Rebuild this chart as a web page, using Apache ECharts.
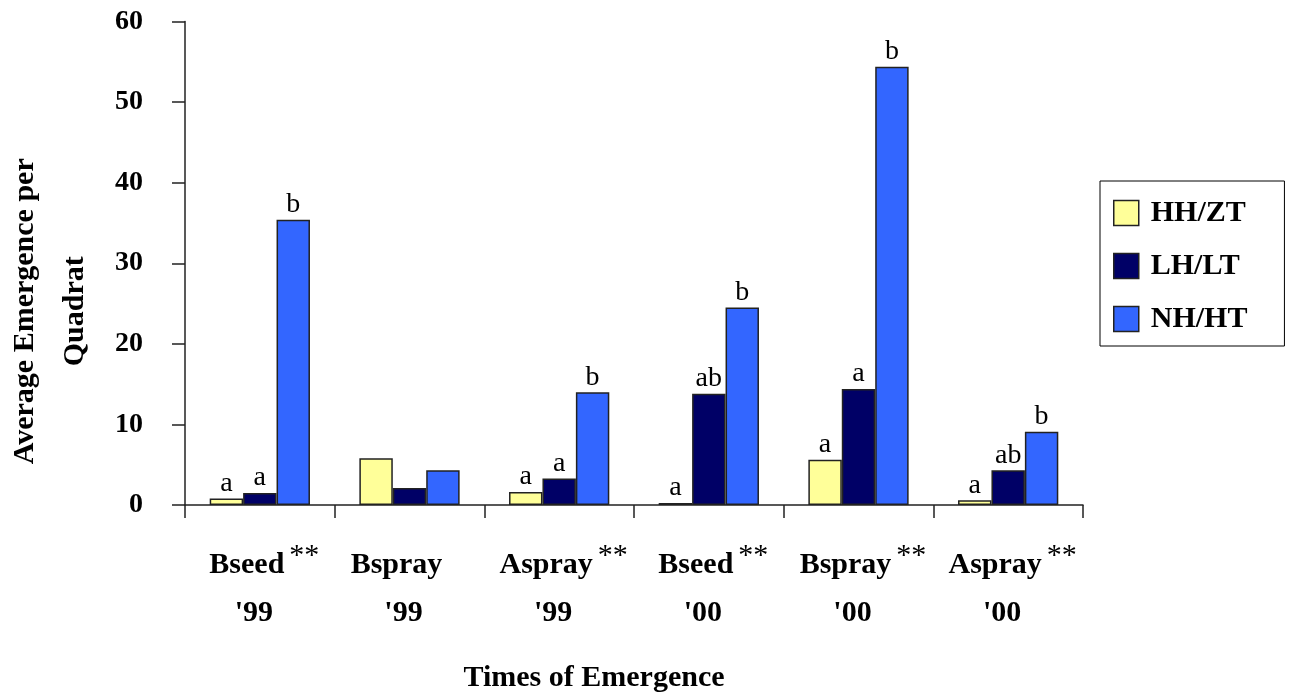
<!DOCTYPE html>
<html>
<head>
<meta charset="utf-8">
<script src="https://cdn.jsdelivr.net/npm/echarts@6/dist/echarts.min.js"></script>
<style>
  html, body { margin: 0; padding: 0; background: #ffffff; }
  #chart { width: 1290px; height: 698px; }
</style>
</head>
<body>
<div id="chart"></div>
<script>
// Emergence timing groups and seasons
const treatments = ['Bseed', 'Bspray', 'Aspray', 'Bseed', 'Bspray', 'Aspray'];
const seasons = ["'99", "'99", "'99", "'00", "'00", "'00"];
const significant = [true, false, true, true, true, true];

// Management systems
const seriesNames = ['HH/ZT', 'LH/LT', 'NH/HT'];
const seriesColors = ['#FFFF99', '#000066', '#3366FF'];

// Average emergence per quadrat
const hhzt = [0.8, 5.8, 1.6, 0.25, 5.6, 0.6];
const lhlt = [1.5, 2.1, 3.3, 13.8, 14.4, 4.3];
const nhht = [35.4, 4.3, 14.0, 24.5, 54.4, 9.1];

// Mean separation letters
const hhztLetters = ['a', '', 'a', 'a', 'a', 'a'];
const lhltLetters = ['a', '', 'a', 'ab', 'a', 'ab'];
const nhhtLetters = ['b', '', 'b', 'b', 'b', 'b'];

// Value axis
const yMin = 0, yMax = 60, yStep = 10;

const FONT = "'Liberation Serif', 'Times New Roman', serif";
const categories = treatments.map((t, i) => t + ' ' + seasons[i]);
const values = [hhzt, lhlt, nhht];
const letters = [hhztLetters, lhltLetters, nhhtLetters];

const chart = echarts.init(document.getElementById('chart'), null, { renderer: 'canvas' });

const series = seriesNames.map((name, s) => ({
  name: name,
  type: 'bar',
  barGap: '0%',
  barCategoryGap: '33%',
  data: values[s],
  itemStyle: { color: seriesColors[s], borderColor: '#222', borderWidth: 1.5 },
  label: {
    show: true,
    position: 'top',
    distance: 1,
    fontFamily: FONT,
    fontSize: 28,
    color: '#000',
    formatter: p => letters[s][p.dataIndex]
  },
  emphasis: { disabled: true }
}));

chart.setOption({
  animation: false,
  backgroundColor: '#ffffff',
  grid: { left: 185, right: 207, top: 21.5, bottom: 193, containLabel: false, outerBoundsMode: 'none' },
  legend: {
    orient: 'vertical',
    left: 1100,
    top: 181,
    data: seriesNames,
    icon: 'rect',
    itemWidth: 25,
    itemHeight: 25,
    itemGap: 23,
    padding: [17, 37, 12, 13],
    borderColor: '#000',
    borderWidth: 1,
    itemStyle: { borderColor: '#222', borderWidth: 1.5 },
    textStyle: {
      fontFamily: FONT, fontSize: 30, fontWeight: 'bold', color: '#000',
      lineHeight: 30, padding: [0, 0, 0, 7]
    },
    selectedMode: false
  },
  xAxis: {
    type: 'category',
    data: categories,
    boundaryGap: true,
    name: 'Times of Emergence',
    nameLocation: 'middle',
    nameGap: 158,
    nameTextStyle: {
      fontFamily: FONT, fontSize: 30, fontWeight: 'bold', color: '#000',
      padding: [0, 80, 0, 0]
    },
    axisLine: { lineStyle: { color: '#222', width: 1.5 } },
    axisTick: { show: true, length: 13, alignWithLabel: false, lineStyle: { color: '#222', width: 1.5 } },
    axisLabel: {
      interval: 0,
      margin: 36,
      color: '#000',
      fontFamily: FONT,
      formatter: (v, i) => {
        const tail = significant[i] ? '{s|**}' : '{q| }';
        return '{p| }{w|' + treatments[i] + '}' + tail + '\n{y|' + seasons[i] + '}';
      },
      rich: {
        p: { width: 9, fontSize: 30, lineHeight: 48 },
        w: { fontFamily: FONT, fontSize: 30, fontWeight: 'bold', color: '#000', lineHeight: 48 },
        s: { fontFamily: FONT, fontSize: 30, color: '#000', lineHeight: 20, verticalAlign: 'top', padding: [0, 0, 0, 5] },
        q: { width: 35, fontSize: 30, lineHeight: 48 },
        y: { fontFamily: FONT, fontSize: 30, fontWeight: 'bold', color: '#000', lineHeight: 48, padding: [0, 12, 0, 0] }
      }
    },
    splitLine: { show: false }
  },
  yAxis: {
    type: 'value',
    min: yMin,
    max: yMax,
    interval: yStep,
    name: 'Average Emergence per\nQuadrat',
    nameLocation: 'middle',
    nameRotate: 90,
    nameGap: 85,
    nameTextStyle: {
      fontFamily: FONT, fontSize: 30, fontWeight: 'bold', color: '#000',
      lineHeight: 50, align: 'center', padding: [0, 96, 0, 0]
    },
    axisLine: { show: true, lineStyle: { color: '#222', width: 1.5 } },
    axisTick: { show: true, length: 13, lineStyle: { color: '#222', width: 1.5 } },
    axisLabel: { margin: 42, fontFamily: FONT, fontSize: 28, fontWeight: 'bold', color: '#000' },
    splitLine: { show: false }
  },
  series: series
});
</script>
</body>
</html>
